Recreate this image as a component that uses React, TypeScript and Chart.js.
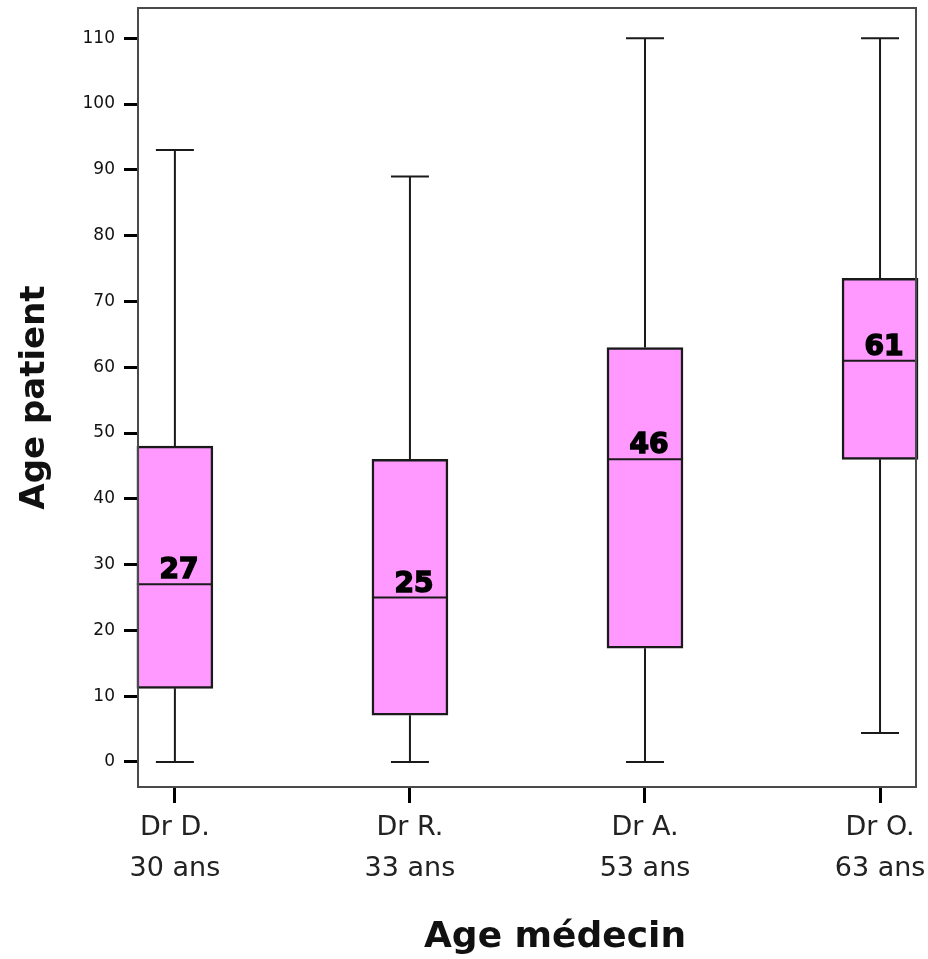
import React, { useEffect, useRef } from "react";
import { Chart, registerables } from "chart.js";

Chart.register(...registerables);

// ---- data ----
const categories: string[][] = [
  ["Dr D.", "30 ans"],
  ["Dr R.", "33 ans"],
  ["Dr A.", "53 ans"],
  ["Dr O.", "63 ans"],
];
const mins = [0, 0, 0, 4.4];
const q1s = [11.2, 7.1, 17.3, 46];
const medians = [27, 25, 46, 61];
const q3s = [48, 46, 63, 73.5];
const maxs = [93, 89, 110, 110];
const medianLabels = ["27", "25", "46", "61"];
const yTicks = [0, 10, 20, 30, 40, 50, 60, 70, 80, 90, 100, 110];
const yTitle = "Age patient";
const xTitle = "Age médecin";

// ---- styles ----
const BOX_FILL = "#ff99ff";
const INK = "#1a1a1a";
const FRAME = "#4a4a4a";
const BOX_PX = 76;
const CAP_PX = 38;

const boxPlugin = {
  id: "boxExtras",
  afterDatasetsDraw(chart: any) {
    const { ctx, scales, chartArea } = chart;
    const xs = scales.x;
    const ys = scales.y;
    ctx.save();
    ctx.strokeStyle = INK;
    ctx.lineWidth = 2;
    for (let i = 0; i < categories.length; i++) {
      const xc = xs.getPixelForValue(i);
      const yMin = ys.getPixelForValue(mins[i]);
      const yQ1 = ys.getPixelForValue(q1s[i]);
      const yMed = ys.getPixelForValue(medians[i]);
      const yQ3 = ys.getPixelForValue(q3s[i]);
      const yMax = ys.getPixelForValue(maxs[i]);
      ctx.strokeStyle = INK;
      ctx.lineWidth = 2;
      ctx.beginPath();
      ctx.moveTo(xc, yQ3);
      ctx.lineTo(xc, yMax);
      ctx.moveTo(xc - CAP_PX / 2, yMax);
      ctx.lineTo(xc + CAP_PX / 2, yMax);
      ctx.moveTo(xc, yQ1);
      ctx.lineTo(xc, yMin);
      ctx.moveTo(xc - CAP_PX / 2, yMin);
      ctx.lineTo(xc + CAP_PX / 2, yMin);
      ctx.moveTo(xc - BOX_PX / 2, yMed);
      ctx.lineTo(xc + BOX_PX / 2, yMed);
      ctx.stroke();
      ctx.fillStyle = "#000";
      ctx.strokeStyle = "#000";
      ctx.lineWidth = 1.6;
      ctx.font = "bold 28px 'DejaVu Sans'";
      ctx.textAlign = "center";
      ctx.textBaseline = "alphabetic";
      ctx.fillText(medianLabels[i], xc + 4, yMed - 6);
      ctx.strokeText(medianLabels[i], xc + 4, yMed - 6);
    }
    // frame
    ctx.strokeStyle = FRAME;
    ctx.lineWidth = 2;
    ctx.strokeRect(
      chartArea.left,
      chartArea.top,
      chartArea.right - chartArea.left,
      chartArea.bottom - chartArea.top
    );
    // x axis title (slightly right of centre, as in the original)
    ctx.fillStyle = "#111";
    ctx.font = "bold 36px 'DejaVu Sans'";
    ctx.textAlign = "center";
    ctx.textBaseline = "alphabetic";
    const w = chartArea.right - chartArea.left;
    ctx.fillText(xTitle, chartArea.left + w * 0.536, chart.height - 12);
    ctx.restore();
  },
};

export default function App() {
  const ref = useRef<HTMLCanvasElement>(null);
  useEffect(() => {
    if (!ref.current) return;
    const chart = new Chart(ref.current, {
      type: "bar",
      data: {
        datasets: [
          {
            data: categories.map((_, i) => ({ x: i, y: [q1s[i], q3s[i]] })) as any,
            backgroundColor: BOX_FILL,
            borderColor: INK,
            borderWidth: 2.5,
            borderSkipped: false,
            barThickness: BOX_PX,
            clip: false as any,
          },
        ],
      },
      options: {
        animation: false,
        responsive: false,
        layout: { padding: { top: 8, right: 12, left: 0, bottom: 0 } },
        plugins: { legend: { display: false }, tooltip: { enabled: false } },
        scales: {
          x: {
            type: "linear",
            offset: false,
            min: -0.157,
            max: 3.153,
            afterBuildTicks: (s: any) => {
              s.ticks = categories.map((_, i) => ({ value: i }));
            },
            afterFit: (s: any) => {
              s.height = 172;
              s.paddingLeft = 0;
              s.paddingRight = 0;
            },
            ticks: {
              callback: (v: any) => categories[Math.round(Number(v))],
              color: "#222",
              font: { family: "'DejaVu Sans'", size: 27, lineHeight: 1.52 },
              padding: 4,
              maxRotation: 0,
              autoSkip: false,
            },
            grid: {
              offset: false,
              drawOnChartArea: false,
              drawTicks: true,
              tickLength: 16,
              tickWidth: 3,
              tickColor: "#000",
            },
            border: { display: false },
            title: { display: false },
          },
          y: {
            type: "linear",
            min: -3.8,
            max: 114.6,
            afterBuildTicks: (s: any) => {
              s.ticks = yTicks.map((v) => ({ value: v }));
            },
            afterFit: (s: any) => {
              s.width = 138;
              s.paddingTop = 0;
              s.paddingBottom = 0;
            },
            ticks: {
              color: "#111",
              font: { family: "'DejaVu Sans'", size: 17 },
              padding: 9,
            },
            grid: {
              drawOnChartArea: false,
              drawTicks: true,
              tickLength: 14,
              tickWidth: 3,
              tickColor: "#000",
            },
            border: { display: false },
            title: {
              display: true,
              text: yTitle,
              color: "#111",
              font: { family: "'DejaVu Sans'", size: 34, weight: "bold", lineHeight: 1.2 },
              padding: { top: 15, bottom: 0 },
            },
          },
        },
      },
      plugins: [boxPlugin],
    });
    return () => chart.destroy();
  }, []);
  return (
    <div style={{ position: "absolute", left: 0, top: 0, width: 928, height: 959, background: "#fff" }}>
      <canvas ref={ref} width={928} height={959} style={{ display: "block", width: 928, height: 959 }} />
    </div>
  );
}
